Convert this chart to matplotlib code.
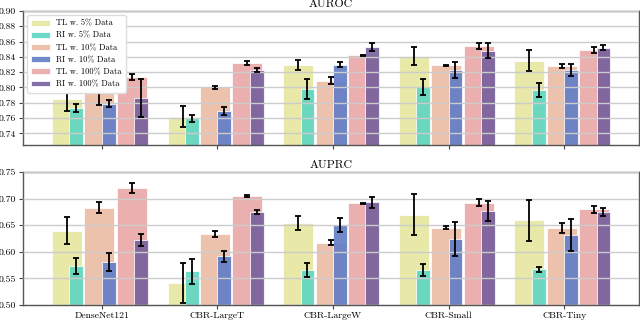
import numpy as np
import matplotlib
matplotlib.use("Agg")
import matplotlib.pyplot as plt

plt.rcParams["font.family"] = ["cmr10", "DejaVu Serif"]
plt.rcParams["axes.formatter.use_mathtext"] = True
plt.rcParams["mathtext.fontset"] = "cm"

# ================= DATA =================
models = ["DenseNet121", "CBR-LargeT", "CBR-LargeW", "CBR-Small", "CBR-Tiny"]
labels = ["TL w. 5% Data", "RI w. 5% Data", "TL w. 10% Data",
          "RI w. 10% Data", "TL w. 100% Data", "RI w. 100% Data"]

# AUROC, one list per setting, ordered like models
auroc_tl5 = [0.785, 0.762, 0.829, 0.841, 0.835]
auroc_ri5 = [0.773, 0.760, 0.798, 0.801, 0.797]
auroc_tl10 = [0.793, 0.800, 0.809, 0.829, 0.828]
auroc_ri10 = [0.779, 0.769, 0.830, 0.823, 0.823]
auroc_tl100 = [0.8135, 0.832, 0.842, 0.854, 0.8485]
auroc_ri100 = [0.786, 0.823, 0.8525, 0.848, 0.852]

auroc_tl5_err = [0.016, 0.014, 0.0065, 0.0115, 0.0136]
auroc_ri5_err = [0.005, 0.0045, 0.0125, 0.0103, 0.0092]
auroc_tl10_err = [0.016, 0.0025, 0.005, 0.001, 0.0022]
auroc_ri10_err = [0.005, 0.005, 0.003, 0.0105, 0.0083]
auroc_tl100_err = [0.0037, 0.003, 0.001, 0.0043, 0.004]
auroc_ri100_err = [0.025, 0.003, 0.005, 0.0095, 0.0033]

# AUPRC
auprc_tl5 = [0.640, 0.542, 0.654, 0.670, 0.659]
auprc_ri5 = [0.573, 0.563, 0.566, 0.566, 0.567]
auprc_tl10 = [0.683, 0.633, 0.617, 0.645, 0.645]
auprc_ri10 = [0.581, 0.592, 0.650, 0.624, 0.631]
auprc_tl100 = [0.720, 0.705, 0.691, 0.692, 0.680]
auprc_ri100 = [0.622, 0.675, 0.693, 0.677, 0.675]

auprc_tl5_err = [0.0257, 0.0375, 0.0138, 0.039, 0.0385]
auprc_ri5_err = [0.015, 0.023, 0.0135, 0.011, 0.0053]
auprc_tl10_err = [0.0097, 0.006, 0.005, 0.003, 0.0094]
auprc_ri10_err = [0.0167, 0.0103, 0.0126, 0.032, 0.03]
auprc_tl100_err = [0.01, 0.002, 0.001, 0.0063, 0.0066]
auprc_ri100_err = [0.012, 0.004, 0.0103, 0.019, 0.0075]

colors = ["#e6e6a0", "#5fd6c2", "#ebbca4", "#5f7cc6", "#eaa6a6", "#76609c"]


def draw_panel(ax, means, errs, title, ylim, yticks, legend=False):
    x = np.arange(len(models))
    # TL bars are wide, RI bars are narrow and sit over the right half
    offsets = [-0.30, -0.22, -0.02, 0.06, 0.26, 0.34]
    widths = [0.26, 0.12, 0.26, 0.12, 0.26, 0.12]

    for i in range(6):
        ax.bar(x + offsets[i], means[i], widths[i], color=colors[i],
               edgecolor="white", linewidth=0.6, alpha=0.9,
               label=labels[i], zorder=1)
        ax.errorbar(x + offsets[i], means[i], yerr=errs[i], fmt="none",
                    ecolor="black", elinewidth=1.3, capsize=2,
                    capthick=1.3, zorder=3)

    ax.set_ylim(*ylim)
    ax.set_yticks(yticks)
    ax.set_xlim(-0.68, 4.645)
    ax.set_xticks(x)
    ax.yaxis.grid(True, color="#cccccc", linewidth=1.0, zorder=2)
    ax.set_axisbelow(False)
    ax.set_title(title, fontsize=8.5, pad=3)
    ax.tick_params(labelsize=7, length=3, width=0.8, color="#444444", pad=2)
    for s in ax.spines.values():
        s.set_color("#555555")
        s.set_linewidth(1.0)

    if legend:
        ax.legend(loc="upper left", fontsize=6, frameon=True,
                  borderpad=0.5, labelspacing=0.45, handlelength=2.2,
                  edgecolor="#dddddd", framealpha=1.0)


fig = plt.figure(figsize=(6.4, 3.2), dpi=100)
ax1 = fig.add_axes([0.036, 0.547, 0.962, 0.419])
ax2 = fig.add_axes([0.036, 0.047, 0.962, 0.4155])

draw_panel(ax1,
           [auroc_tl5, auroc_ri5, auroc_tl10, auroc_ri10, auroc_tl100, auroc_ri100],
           [auroc_tl5_err, auroc_ri5_err, auroc_tl10_err, auroc_ri10_err,
            auroc_tl100_err, auroc_ri100_err],
           "AUROC", (0.725, 0.90), np.arange(0.74, 0.901, 0.02), legend=True)
ax1.set_xticklabels([])

draw_panel(ax2,
           [auprc_tl5, auprc_ri5, auprc_tl10, auprc_ri10, auprc_tl100, auprc_ri100],
           [auprc_tl5_err, auprc_ri5_err, auprc_tl10_err, auprc_ri10_err,
            auprc_tl100_err, auprc_ri100_err],
           "AUPRC", (0.50, 0.75), np.arange(0.50, 0.751, 0.05))
ax2.set_xticklabels(models)

ax1.yaxis.set_major_formatter(matplotlib.ticker.FormatStrFormatter("%.2f"))
ax2.yaxis.set_major_formatter(matplotlib.ticker.FormatStrFormatter("%.2f"))

plt.savefig("out.png", dpi=100)
plt.close()
